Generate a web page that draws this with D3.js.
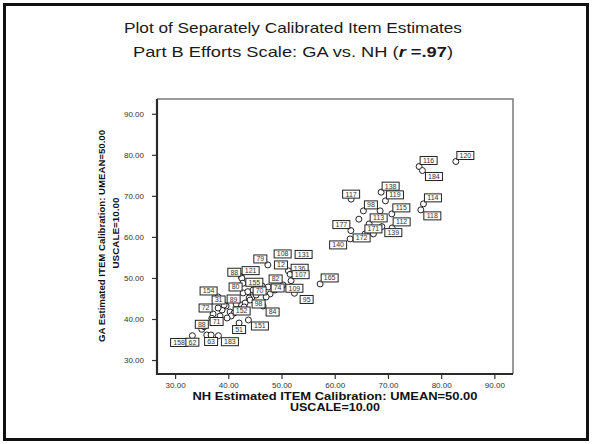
<!DOCTYPE html>
<html><head><meta charset="utf-8">
<script src="https://cdn.jsdelivr.net/npm/d3@7"></script>
<style>html,body{margin:0;padding:0;background:#fff}svg{display:block}</style>
</head><body>
<svg id="c" width="592" height="444"></svg>
<script>
// ---- data ----
const itemIds = ["120","116","184","114","118","117","138","119","98","","115","113","","112","139","177","","171","172","140","131","108","79","12","136","107","165","109","95","121","88","155","82","154","80","74","70","31","89","98","84","72","152","71","88","51","151","158","62","","63","183","","","","","","","","","","","","","","","","","","","","","",""];
const nhValues = [82.76,75.86,76.48,76.67,76.18,63.08,68.72,69.53,65.39,68.53,70.73,66.47,64.53,70.79,68.85,63.03,65.71,67.27,62.89,60.64,54.15,50.21,47.43,51.30,51.62,51.80,57.26,52.42,54.72,42.41,42.54,42.73,50.30,38.08,42.78,47.86,44.47,39.59,42.41,43.91,46.54,37.14,40.34,37.80,35.02,42.03,43.78,30.75,33.25,35.96,36.77,38.14,43.67,44.66,45.60,46.35,45.23,44.10,43.16,42.97,41.84,41.09,40.53,38.83,38.08,39.21,41.47,47.11,48.80,47.48,36.90,35.45,39.77,38.46];
const gaValues = [78.37,77.15,76.17,68.05,66.59,69.20,70.90,68.78,66.34,66.34,65.61,63.17,64.32,62.20,62.51,61.54,60.73,60.73,59.51,58.05,55.73,55.85,53.17,51.71,50.90,49.34,48.54,46.27,44.76,50.32,49.93,48.71,48.29,45.37,46.34,46.10,45.37,43.17,43.41,45.12,43.17,41.22,41.71,39.39,37.49,39.02,39.76,34.27,35.93,36.10,36.10,35.93,46.66,47.07,47.56,48.05,45.85,44.63,43.90,42.93,42.44,41.46,40.73,42.20,42.68,43.41,43.66,45.37,47.07,47.80,40.17,38.12,40.24,40.73];
const labelSide = ["NE","NE","SE","NE","SE","N","NE","NE","NE","","NE","NE","","NE","SE","NW","","N","E","C","C","C","NW","NW","NE","NE","NE","N","C","NE","NW","E","NW","NW","NW","NE","NE","NW","NW","SE","SE","NW","E","C","N","S","SE","C","S","","S","SE"];
const tickValues = [30,40,50,60,70,80,90];
const titleLine1 = "Plot of Separately Calibrated Item Estimates";
const xTitle = ["NH Estimated ITEM Calibration: UMEAN=50.00","USCALE=10.00"];
const yTitle = ["GA Estimated ITEM Calibration: UMEAN=50.00","USCALE=10.00"];

// ---- drawing ----
const svg = d3.select("#c");
const F = "'Liberation Sans', Arial, sans-serif";
svg.append("rect").attr("x",4.5).attr("y",4.5).attr("width",583).attr("height",435)
  .attr("fill","#fff").attr("stroke","#111").attr("stroke-width",3);

// titles
svg.append("text").attr("x",293).attr("y",33.3).attr("text-anchor","middle")
  .attr("font-family",F).attr("font-size",15).attr("fill","#1a1a1a")
  .attr("textLength",338).attr("lengthAdjust","spacingAndGlyphs").text(titleLine1);
const t2 = svg.append("text").attr("x",293).attr("y",57.3).attr("text-anchor","middle")
  .attr("font-family",F).attr("font-size",15).attr("fill","#1a1a1a")
  .attr("textLength",320).attr("lengthAdjust","spacingAndGlyphs");
t2.append("tspan").text("Part B Efforts Scale: GA vs. NH (");
t2.append("tspan").attr("font-weight","bold").attr("font-style","italic").text("r");
t2.append("tspan").attr("font-weight","bold").text(" =.97");
t2.append("tspan").text(")");

const L=157, R=513, T=99, B=374;
const x = d3.scaleLinear().domain([26.6,93.5]).range([L,R]);
const y = d3.scaleLinear().domain([26.6,93.6]).range([B,T]);

// frame
svg.append("path").attr("d",`M${L},${T}H${R}V${B}`).attr("fill","none").attr("stroke","#7a7a7a").attr("stroke-width",1.5);

const fmt = d3.format(".2f");
const gx = svg.append("g").attr("transform",`translate(0,${B})`)
  .call(d3.axisBottom(x).tickValues(tickValues).tickFormat(fmt).tickSize(5).tickPadding(3).tickSizeOuter(0));
const gy = svg.append("g").attr("transform",`translate(${L},0)`)
  .call(d3.axisLeft(y).tickValues(tickValues).tickFormat(fmt).tickSize(5).tickPadding(8).tickSizeOuter(0));
[gx,gy].forEach(g=>{
  g.select(".domain").remove();
  g.selectAll(".tick line").attr("stroke","#333").attr("stroke-width",1.2);
  g.selectAll(".tick text").attr("font-family",F).attr("font-size",8).attr("fill","#333");
});
svg.append("path").attr("d",`M${L},${T}V${B}H${R}`).attr("fill","none").attr("stroke","#2a2a2a").attr("stroke-width",2.2);

// axis titles
svg.append("text").attr("x",335).attr("y",400).attr("text-anchor","middle").attr("font-family",F)
  .attr("font-weight","bold").attr("font-size",10).attr("fill","#111")
  .attr("textLength",285).attr("lengthAdjust","spacingAndGlyphs").text(xTitle[0]);
svg.append("text").attr("x",335).attr("y",410.7).attr("text-anchor","middle").attr("font-family",F)
  .attr("font-weight","bold").attr("font-size",10).attr("fill","#111")
  .attr("textLength",90).attr("lengthAdjust","spacingAndGlyphs").text(xTitle[1]);
svg.append("text").attr("transform","translate(105,236) rotate(-90)").attr("text-anchor","middle").attr("font-family",F)
  .attr("font-weight","bold").attr("font-size",9.7).attr("fill","#111")
  .attr("textLength",212).attr("lengthAdjust","spacingAndGlyphs").text(yTitle[0]);
svg.append("text").attr("transform","translate(119,233) rotate(-90)").attr("text-anchor","middle").attr("font-family",F)
  .attr("font-weight","bold").attr("font-size",9.7).attr("fill","#111")
  .attr("textLength",71).attr("lengthAdjust","spacingAndGlyphs").text(yTitle[1]);

// points
const pts = nhValues.map((v,i)=>({id:itemIds[i]||"", px:x(v), py:y(gaValues[i]), side:labelSide[i]||""}));
svg.append("g").selectAll("circle").data(pts).join("circle")
  .attr("cx",d=>d.px).attr("cy",d=>d.py).attr("r",3)
  .attr("fill","#fff").attr("stroke","#222").attr("stroke-width",1);

// labels
const lg = svg.append("g");
pts.filter(d=>d.id).forEach(d=>{
  const w = d.id.length===3 ? 17 : 13, h = 8;
  let bx, by;
  switch(d.side){
    case "NE": bx=d.px+1; by=d.py-2-h; break;
    case "SE": bx=d.px+3; by=d.py+2; break;
    case "NW": bx=d.px-w-1; by=d.py-2-h; break;
    case "SW": bx=d.px-w-1; by=d.py+2; break;
    case "N": bx=d.px-w/2; by=d.py-1-h; break;
    case "S": bx=d.px-w/2; by=d.py+2.5; break;
    case "E": bx=d.px+3; by=d.py-h/2-1; break;
    default: bx=d.px-w/2; by=d.py-h/2;
  }
  lg.append("rect").attr("x",bx).attr("y",by).attr("width",w).attr("height",h)
    .attr("fill","#fff").attr("stroke","#222").attr("stroke-width",1);
  lg.append("text").attr("x",bx+w/2).attr("y",by+h-1.5).attr("text-anchor","middle")
    .attr("font-family",F).attr("font-size",7).attr("fill","#333").text(d.id);
});
</script>
</body></html>
